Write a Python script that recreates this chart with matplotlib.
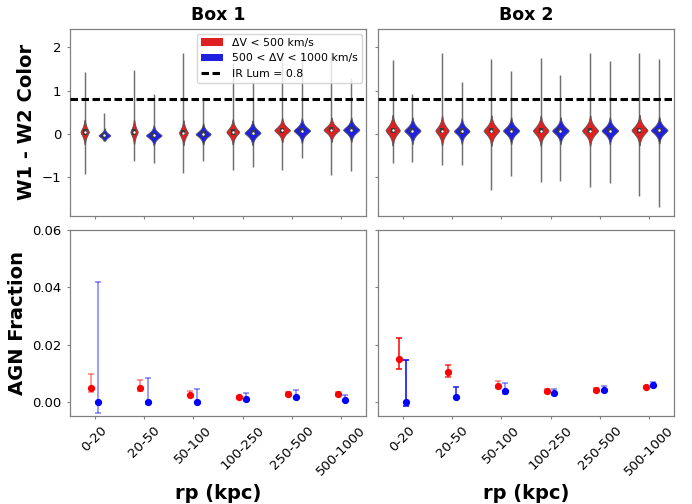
import numpy as np
import matplotlib
matplotlib.use('Agg')
import matplotlib.pyplot as plt
from matplotlib.patches import Patch
from matplotlib.lines import Line2D

categories = ['0-20', '20-50', '50-100', '100-250', '250-500', '500-1000']

# ---- violin summaries (W1 - W2 colour) ----
# centre (peak), lowest value, highest value, peak half-width, core spread
b1_red_center = [0.05, 0.05, 0.03, 0.05, 0.09, 0.10]
b1_red_min    = [-0.92, -0.63, -0.90, -0.82, -0.82, -0.94]
b1_red_max    = [1.44, 1.48, 1.88, 1.65, 1.90, 1.90]
b1_red_width  = [0.085, 0.075, 0.090, 0.130, 0.158, 0.162]
b1_red_spread = [0.14, 0.14, 0.14, 0.13, 0.12, 0.12]

b1_blue_center = [-0.03, -0.03, 0.00, 0.03, 0.08, 0.10]
b1_blue_min    = [-0.15, -0.67, -0.62, -0.75, -0.56, -0.85]
b1_blue_max    = [0.49, 0.92, 0.78, 1.20, 1.90, 1.30]
b1_blue_width  = [0.120, 0.158, 0.152, 0.162, 0.168, 0.165]
b1_blue_spread = [0.075, 0.10, 0.105, 0.12, 0.12, 0.12]

b2_red_center = [0.09, 0.08, 0.08, 0.08, 0.08, 0.09]
b2_red_min    = [-0.66, -0.72, -1.30, -1.11, -1.23, -1.42]
b2_red_max    = [1.71, 1.86, 1.73, 1.76, 1.88, 1.86]
b2_red_width  = [0.145, 0.135, 0.158, 0.158, 0.162, 0.162]
b2_red_spread = [0.155, 0.15, 0.15, 0.15, 0.15, 0.15]

b2_blue_center = [0.08, 0.07, 0.08, 0.08, 0.08, 0.09]
b2_blue_min    = [-0.65, -0.71, -0.96, -1.09, -1.13, -1.69]
b2_blue_max    = [0.93, 1.20, 1.46, 1.37, 1.69, 1.73]
b2_blue_width  = [0.165, 0.158, 0.165, 0.168, 0.168, 0.168]
b2_blue_spread = [0.13, 0.125, 0.13, 0.13, 0.13, 0.13]

ir_lum_cut = 0.8

# ---- AGN fraction ----
b1_red_frac   = [0.0049, 0.0049, 0.0025, 0.0016, 0.0027, 0.0027]
b1_red_errlo  = [0.0035, 0.0037, 0.0020, 0.0012, 0.0020, 0.0020]
b1_red_errhi  = [0.0098, 0.0075, 0.0040, 0.0022, 0.0036, 0.0034]
b1_blue_frac  = [0.0000, 0.0000, 0.0000, 0.0009, 0.0017, 0.0007]
b1_blue_errlo = [-0.0038, -0.0006, -0.0004, 0.0005, 0.0012, 0.0002]
b1_blue_errhi = [0.0419, 0.0082, 0.0045, 0.0030, 0.0041, 0.0023]

b2_red_frac   = [0.0151, 0.0103, 0.0057, 0.0037, 0.0042, 0.0052]
b2_red_errlo  = [0.0115, 0.0086, 0.0049, 0.0031, 0.0036, 0.0047]
b2_red_errhi  = [0.0223, 0.0130, 0.0072, 0.0044, 0.0047, 0.0057]
b2_blue_frac  = [0.0000, 0.0016, 0.0039, 0.0031, 0.0043, 0.0060]
b2_blue_errlo = [-0.0013, 0.0013, 0.0029, 0.0024, 0.0036, 0.0052]
b2_blue_errhi = [0.0145, 0.0052, 0.0067, 0.0044, 0.0054, 0.0069]

# error-bar opacity per point (style)
b1_red_alpha  = [0.5] * 6
b1_blue_alpha = [0.5] * 6
b2_red_alpha  = [1.0, 0.85, 0.5, 0.5, 0.5, 0.5]
b2_blue_alpha = [1.0, 0.9, 0.5, 0.5, 0.5, 0.5]

RED_V = '#df2020'
BLUE_V = '#2020df'
EDGE = '#555555'
SPINE = '#808080'

plt.rcParams['font.family'] = ['DejaVu Sans']

fig, axes = plt.subplots(2, 2, figsize=(6.92, 5.04), dpi=100, sharey='row')
fig.subplots_adjust(left=0.101, right=0.974, top=0.942, bottom=0.175,
                    wspace=0.04, hspace=0.075)

x = np.arange(len(categories))


def draw_violin(ax, xc, c, lo, hi, w, s, color):
    ax.vlines(xc, lo, hi, color='#707070', linewidth=1.05, zorder=2)
    y = np.linspace(lo, hi, 800)
    hw = w * np.exp(-(np.abs(y - c) / s) ** 1.4)
    keep = hw > 0.006
    ax.fill_betweenx(y[keep], xc - hw[keep], xc + hw[keep], facecolor=color,
                     edgecolor=EDGE, linewidth=0.6, zorder=3)
    ax.vlines(xc, c - 0.06, c + 0.06, color='#3c3c3c', linewidth=3.0, zorder=4)
    ax.scatter([xc], [c], s=3, color='white', zorder=5, linewidths=0)


violin_sets = [
    (axes[0, 0], (b1_red_center, b1_red_min, b1_red_max, b1_red_width, b1_red_spread),
     (b1_blue_center, b1_blue_min, b1_blue_max, b1_blue_width, b1_blue_spread)),
    (axes[0, 1], (b2_red_center, b2_red_min, b2_red_max, b2_red_width, b2_red_spread),
     (b2_blue_center, b2_blue_min, b2_blue_max, b2_blue_width, b2_blue_spread)),
]
for ax, red, blue in violin_sets:
    for i in range(len(categories)):
        draw_violin(ax, x[i] - 0.2, red[0][i], red[1][i], red[2][i], red[3][i], red[4][i], RED_V)
        draw_violin(ax, x[i] + 0.2, blue[0][i], blue[1][i], blue[2][i], blue[3][i], blue[4][i], BLUE_V)
    ax.axhline(ir_lum_cut, color='black', linewidth=2.2, linestyle=(0, (2.45, 1.15)), zorder=6)

frac_sets = [
    (axes[1, 0], b1_red_frac, b1_red_errlo, b1_red_errhi, b1_red_alpha,
     b1_blue_frac, b1_blue_errlo, b1_blue_errhi, b1_blue_alpha),
    (axes[1, 1], b2_red_frac, b2_red_errlo, b2_red_errhi, b2_red_alpha,
     b2_blue_frac, b2_blue_errlo, b2_blue_errhi, b2_blue_alpha),
]
for ax, rf, rl, ru, ra, bf, bl, bu, ba in frac_sets:
    for i in range(len(categories)):
        for xo, f, l, u, a, col in ((-0.075, rf[i], rl[i], ru[i], ra[i], 'red'),
                                    (0.075, bf[i], bl[i], bu[i], ba[i], 'blue')):
            ax.errorbar([x[i] + xo], [f], yerr=[[f - l], [u - f]], fmt='none',
                        ecolor=col, alpha=a, elinewidth=1.1, capsize=2.5,
                        capthick=1.1, zorder=2)
            ax.plot([x[i] + xo], [f], 'o', color=col, markersize=4.2, zorder=3)

for ax in axes.flat:
    ax.set_xlim(-0.5, 5.5)
    ax.set_xticks(x)
    for sp in ax.spines.values():
        sp.set_color(SPINE)
        sp.set_linewidth(0.9)
    ax.tick_params(length=2.5, width=0.8, color=SPINE, labelsize=9.5)

for ax in axes[0]:
    ax.tick_params(labelbottom=False)
axes[0, 0].set_ylim(-1.88, 2.42)
axes[0, 0].set_yticks([-1, 0, 1, 2])
axes[1, 0].set_ylim(-0.0048, 0.06)
axes[1, 0].set_yticks([0.0, 0.02, 0.04, 0.06])
axes[1, 0].set_yticklabels(['0.00', '0.02', '0.04', '0.06'])

for ax in axes[1]:
    ax.set_xticklabels(categories, rotation=45, ha='center')
    ax.set_xlabel('rp (kpc)', fontsize=14, fontweight='bold', labelpad=4)

axes[0, 0].set_title('Box 1', fontsize=12.5, fontweight='bold', pad=7)
axes[0, 1].set_title('Box 2', fontsize=12.5, fontweight='bold', pad=7)
axes[0, 0].set_ylabel('W1 - W2 Color', fontsize=14, fontweight='bold')
axes[1, 0].set_ylabel('AGN Fraction', fontsize=14, fontweight='bold')

handles = [Patch(facecolor=RED_V, edgecolor='none'),
           Patch(facecolor=BLUE_V, edgecolor='none'),
           Line2D([0], [0], color='black', linewidth=2.2, linestyle=(0, (2.45, 1.15)))]
labels = ['ΔV < 500 km/s', '500 < ΔV < 1000 km/s', 'IR Lum = 0.8']
axes[0, 0].legend(handles, labels, loc='upper right', fontsize=7.8,
                  framealpha=0.8, borderaxespad=0.4)

fig.savefig('out.png', dpi=100)
